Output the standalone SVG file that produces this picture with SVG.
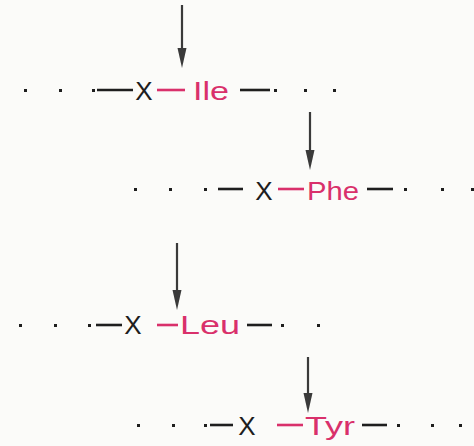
<svg xmlns="http://www.w3.org/2000/svg" width="474" height="446" viewBox="0 0 474 446">
<defs>
<style>
.bg{fill:#fbfbf9}
.k{stroke:#1e1e1e;stroke-width:2.6;fill:none}
.r{stroke:#d9306b;stroke-width:2.6;fill:none}
.dot{fill:#1e1e1e}
.tx{font-family:"Liberation Sans","DejaVu Sans",sans-serif;font-size:26px}
.tk{fill:#1e1e1e}
.tr{fill:#d9306b}
.ar{stroke:#3a3a3a;stroke-width:2.2;fill:none}
.ah{fill:#3a3a3a}
</style>
</defs>
<rect class="bg" x="0" y="0" width="474" height="446"/>
<g id="connectors">
<line class="ar" x1="182" y1="5" x2="182" y2="52"/>
<path class="ah" d="M177.5,48 L186.5,48 L182,68 Z"/>
<line class="ar" x1="310" y1="112" x2="310" y2="154"/>
<path class="ah" d="M305.5,150 L314.5,150 L310,170 Z"/>
<line class="ar" x1="177" y1="243" x2="177" y2="294"/>
<path class="ah" d="M172.5,290 L181.5,290 L177,310 Z"/>
<line class="ar" x1="308" y1="357" x2="308" y2="397"/>
<path class="ah" d="M303.5,393 L312.5,393 L308,413 Z"/>
</g>
<g id="row1">
<rect class="dot" x="24" y="89" width="3" height="3"/>
<rect class="dot" x="59" y="89" width="3" height="3"/>
<rect class="dot" x="92" y="89" width="3" height="3"/>
<line class="k" x1="97" y1="90" x2="133" y2="90"/>
<text class="tx tk" x="144" y="100" text-anchor="middle">X</text>
<line class="r" x1="157" y1="90" x2="185" y2="90"/>
<text class="tx tr" x="193" y="100" textLength="36" lengthAdjust="spacingAndGlyphs">Ile</text>
<line class="k" x1="240" y1="90" x2="270" y2="90"/>
<rect class="dot" x="274" y="89" width="3" height="3"/>
<rect class="dot" x="304" y="89" width="3" height="3"/>
<rect class="dot" x="333" y="89" width="3" height="3"/>
</g>
<g id="row2">
<rect class="dot" x="134" y="188" width="3" height="3"/>
<rect class="dot" x="169" y="188" width="3" height="3"/>
<rect class="dot" x="204" y="188" width="3" height="3"/>
<line class="k" x1="218" y1="189" x2="243" y2="189"/>
<text class="tx tk" x="264" y="200" text-anchor="middle">X</text>
<line class="r" x1="278" y1="189" x2="304" y2="189"/>
<text class="tx tr" x="307" y="200" textLength="52" lengthAdjust="spacingAndGlyphs">Phe</text>
<line class="k" x1="367" y1="189" x2="393" y2="189"/>
<rect class="dot" x="404" y="188" width="3" height="3"/>
<rect class="dot" x="441" y="188" width="3" height="3"/>
<rect class="dot" x="471" y="188" width="3" height="3"/>
</g>
<g id="row3">
<rect class="dot" x="19" y="324" width="3" height="3"/>
<rect class="dot" x="54" y="324" width="3" height="3"/>
<rect class="dot" x="88" y="324" width="3" height="3"/>
<line class="k" x1="96" y1="325" x2="122" y2="325"/>
<text class="tx tk" x="133" y="334" text-anchor="middle">X</text>
<line class="r" x1="157" y1="325" x2="178" y2="325"/>
<text class="tx tr" x="180" y="334" textLength="60" lengthAdjust="spacingAndGlyphs">Leu</text>
<line class="k" x1="247" y1="325" x2="272" y2="325"/>
<rect class="dot" x="281" y="324" width="3" height="3"/>
<rect class="dot" x="317" y="324" width="3" height="3"/>
</g>
<g id="row4">
<rect class="dot" x="137" y="424" width="3" height="3"/>
<rect class="dot" x="172" y="424" width="3" height="3"/>
<rect class="dot" x="204" y="424" width="3" height="3"/>
<line class="k" x1="210" y1="425" x2="233" y2="425"/>
<text class="tx tk" x="247" y="435" text-anchor="middle">X</text>
<line class="r" x1="277" y1="425" x2="303" y2="425"/>
<text class="tx tr" x="305" y="435" textLength="50" lengthAdjust="spacingAndGlyphs">Tyr</text>
<line class="k" x1="362" y1="425" x2="387" y2="425"/>
<rect class="dot" x="397" y="424" width="3" height="3"/>
<rect class="dot" x="431" y="424" width="3" height="3"/>
<rect class="dot" x="459" y="424" width="3" height="3"/>
</g>
</svg>
